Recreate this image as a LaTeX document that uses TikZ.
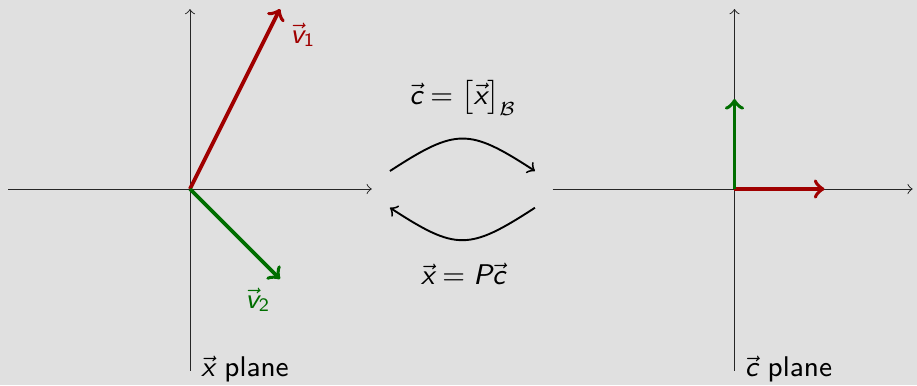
\documentclass[tikz,border=0pt]{standalone}
\usepackage{amsmath,amssymb}
\usetikzlibrary{positioning}
\definecolor{bggray}{RGB}{224,224,224}
\definecolor{vred}{RGB}{160,0,0}
\definecolor{vgreen}{RGB}{0,110,0}
\newcommand{\sv}[1]{\text{\sffamily\itshape #1}}
\newcommand{\sn}[1]{\text{\sffamily #1}}
\tikzset{
		axis/.style={->, line width=0.3pt, black!85},
		basisvec/.style={->, very thick},
		swap/.style={->, semithick},
		txt/.style={font=\fontsize{9}{11}\selectfont\sffamily}
	}

\begin{document}
\begin{tikzpicture}
            \useasboundingbox (-2.111,-2.178) rectangle (8.078,2.1);
            \fill[bggray] (-2.111,-2.178) rectangle (8.078,2.1);

            % the x plane
            \draw[axis] (-2.02, 0) -- (2.02, 0);
            \draw[axis] (0, -2.02) -- (0, 2);
            \coordinate (O) at (0, 0);
            \draw[basisvec] (O) -- (1, 2) [vred];
            \draw[basisvec] (O) -- (1, -1) [vgreen];
            \node[txt, vred] (v1) at (1.256, 1.711) {$\vec{\sv{v}}_{\sn{1}}$};
            \node[txt, vgreen] (v2) at (0.756, -1.233) {$\vec{\sv{v}}_{\sn{2}}$};
            \node[txt] (xplane) at (0.611, -2.0) {$\vec{\sv{x}}$ plane};

            % the c plane
            \draw[axis] (4.03, 0) -- (8.03, 0);
            \draw[axis] (6.05, -2.02) -- (6.05, 2);
            \coordinate (C) at (6.05, 0);
            \draw[basisvec] (C) -- (7.05, 0) [vred];
            \draw[basisvec] (C) -- (6.05, 1) [vgreen];
            \node[txt] (cplane) at (6.65, -2.0) {$\vec{\sv{c}}$ plane};

            % change of coordinates
            \coordinate (tl) at (2.222, 0.2);
            \coordinate (tr) at (3.833, 0.2);
            \coordinate (bl) at (2.222, -0.208);
            \coordinate (br) at (3.833, -0.208);
            \draw[swap] (tl) to[out=33, in=147, looseness=1.4] (tr);
            \draw[swap] (br) to[out=-147, in=-33, looseness=1.4] (bl);
            \node[txt] (tocoord) at (3.033, 1.011) {$\vec{\sv{c}} = \big[\vec{\sv{x}}\big]_{\mathcal{B}}$};
            \node[txt] (fromcoord) at (3.033, -0.944) {$\vec{\sv{x}} = \sv{P}\vec{\sv{c}}$};
\end{tikzpicture}
\end{document}
